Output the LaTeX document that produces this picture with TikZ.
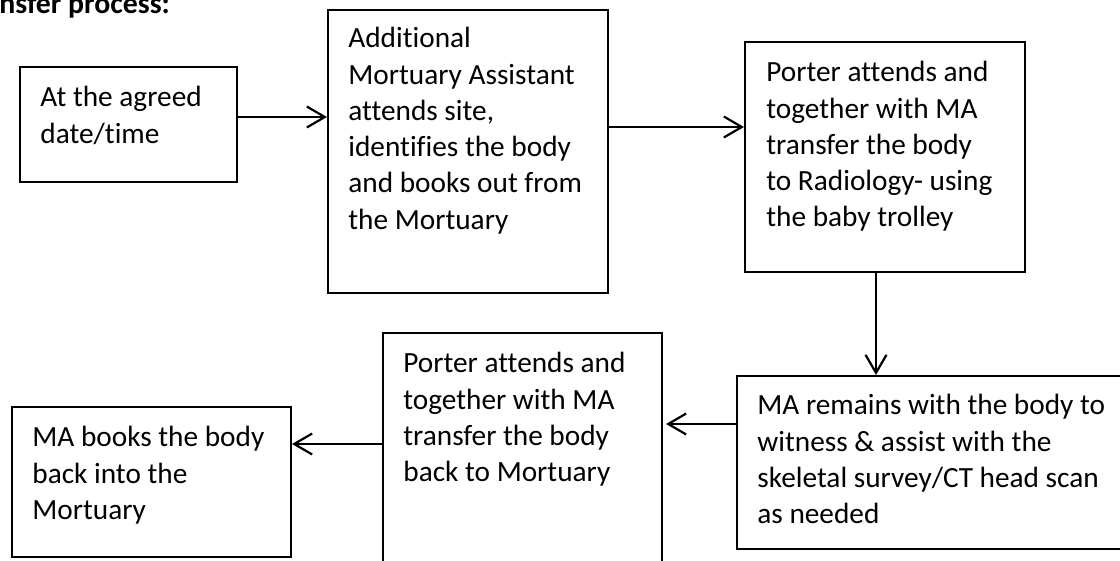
\documentclass[tikz,border=0pt]{standalone}
\usepackage{fontspec}
\setmainfont{Carlito}[Ligatures=NoCommon]
\usetikzlibrary{arrows.meta}
\begin{document}
\begin{tikzpicture}[x=0.5pt,y=-0.5pt,
  box/.style={draw=black,line width=1pt,rectangle,inner sep=0pt,anchor=north west},
  txt/.style={anchor=north west,inner sep=0pt,align=left,font=\fontsize{14.65}{18.15}\selectfont},
  arr/.style={-{Straight Barb[length=9pt,width=10.5pt,line width=1.1pt]},line width=1.1pt}]
\useasboundingbox (0,0) rectangle (1120,561);
\clip (0,0) rectangle (1120,561);
\node[anchor=base west,inner sep=0pt,font=\fontsize{14.9}{18}\selectfont\bfseries] (title) at (-1,14) {nsfer process:};
% boxes
\node[box,minimum width=217pt*0.5,minimum height=115pt*0.5] (a) at (19,66) {};
\node[box,minimum width=280pt*0.5,minimum height=283pt*0.5] (b) at (327,9) {};
\node[box,minimum width=280pt*0.5,minimum height=230pt*0.5] (c) at (744,41) {};
\node[box,minimum width=400pt*0.5,minimum height=173pt*0.5] (d) at (736,375) {};
\node[box,minimum width=279pt*0.5,minimum height=260pt*0.5] (e) at (382,332) {};
\node[box,minimum width=279pt*0.5,minimum height=150pt*0.5] (f) at (11,406) {};
% texts
\node[txt] (ta) at (40,86) {At the agreed\\date/time};
\node[txt] (tb) at (348,27) {Additional\\Mortuary Assistant\\attends site,\\identifies the body\\and books out from\\the Mortuary};
\node[txt] (tc) at (766,61) {Porter attends and\\together with MA\\transfer the body\\to Radiology- using\\the baby trolley};
\node[txt] (td) at (757,394) {MA remains with the body to\\witness \& assist with the\\skeletal survey/CT head scan\\as needed};
\node[txt] (te) at (403,352) {Porter attends and\\together with MA\\transfer the body\\back to Mortuary};
\node[txt] (tf) at (32,426) {MA books the body\\back into the\\Mortuary};
% connectors
\draw[arr] (a.east|-0,117) -- (b.west|-0,117);
\draw[arr] (b.east|-0,127) -- (c.west|-0,127);
\draw[arr] (c.south-|876,0) -- (d.north-|876,0);
\draw[arr] (d.west|-0,424) -- ([xshift=1.5pt]e.east|-0,424);
\draw[arr] (e.west|-0,444) -- (f.east|-0,444);
\end{tikzpicture}
\end{document}
